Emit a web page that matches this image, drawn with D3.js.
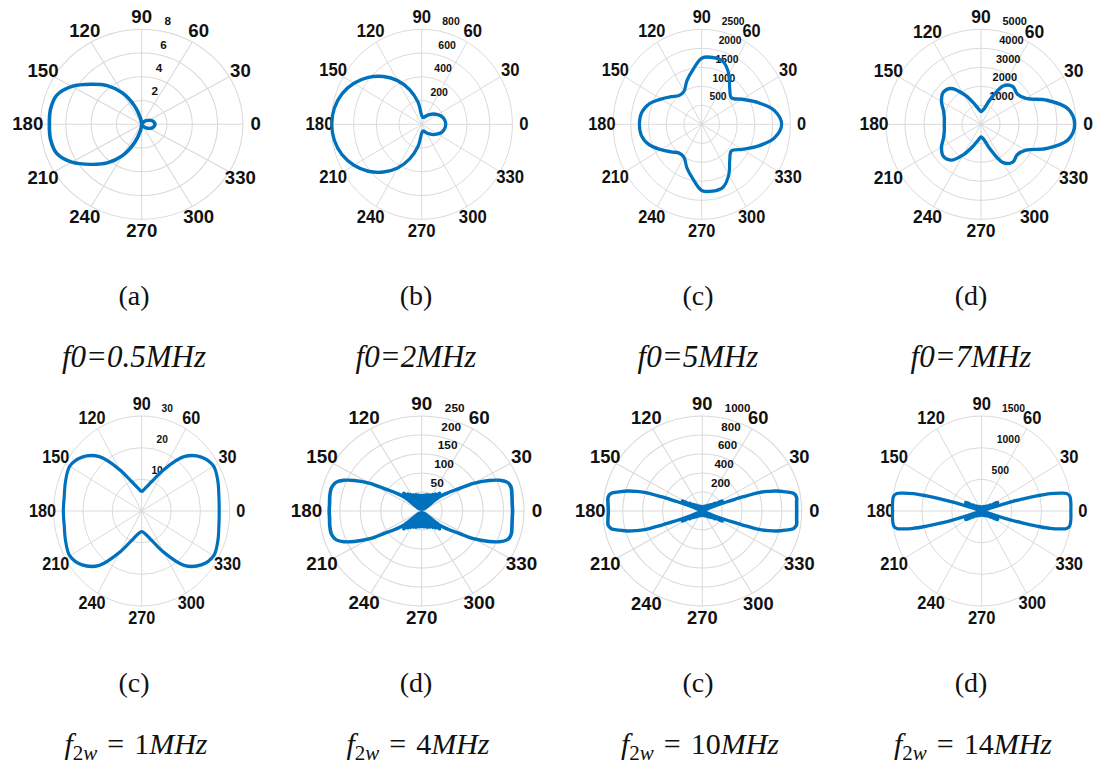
<!DOCTYPE html>
<html>
<head>
<meta charset="utf-8">
<script src="https://cdn.jsdelivr.net/npm/d3@7"></script>
<style>
  html, body { margin: 0; padding: 0; background: #fff; }
  svg { display: block; }
</style>
</head>
<body>
<svg id="fig" width="1096" height="765"></svg>
<script>
// ---------------- data ----------------
// angular grid / tick labels (degrees, counter-clockwise from east)
const thetaTicks = [0, 30, 60, 90, 120, 150, 180, 210, 240, 270, 300, 330];

// radial tick values of each polar axis
const rTicksA = [2, 4, 6, 8];
const rTicksB = [200, 400, 600, 800];
const rTicksC = [500, 1000, 1500, 2000, 2500];
const rTicksD = [1000, 2000, 3000, 4000, 5000];
const rTicksE = [10, 20, 30];
const rTicksF = [50, 100, 150, 200, 250];
const rTicksG = [200, 400, 600, 800, 1000];
const rTicksH = [500, 1000, 1500];

// radiation patterns: [angle in degrees, magnitude]
const patternA = [
  [0,1.05],[10,1.0],[20,0.88],[30,0.68],[40,0.47],[50,0.28],[60,0.13],[70,0.05],[80,0.02],[90,0.05],
  [100,0.5],[110,1.63],[120,3.05],[130,4.25],[140,5.25],[150,6.38],[160,7.15],[170,7.32],[180,7.3],
  [190,7.32],[200,7.15],[210,6.38],[220,5.25],[230,4.25],[240,3.05],[250,1.63],[260,0.5],[270,0.05],
  [280,0.02],[290,0.05],[300,0.13],[310,0.28],[320,0.47],[330,0.68],[340,0.88],[350,1.0]
];
const patternB = [
  [0,212],[10,206],[20,190],[30,162],[40,135],[50,106],[60,82],[70,64],[80,58],[90,75],
  [100,190],[110,310],[120,425],[130,525],[140,615],[150,690],[160,748],[170,782],[180,793],
  [190,782],[200,748],[210,690],[220,615],[230,525],[240,425],[250,310],[260,190],[270,75],
  [280,58],[290,64],[300,82],[310,106],[320,135],[330,162],[340,190],[350,206]
];
const patternC = [
  [0,2255],[10,2080],[20,1680],[30,1320],[40,1090],[50,1230],[60,1530],[70,1760],[80,1785],[90,1740],
  [100,1452],[110,1220],[120,1000],[130,990],[140,1130],[150,1330],[160,1575],[170,1725],[180,1757],
  [190,1725],[200,1575],[210,1330],[220,1130],[230,990],[240,1000],[250,1220],[260,1452],[270,1740],
  [280,1785],[290,1760],[300,1530],[310,1230],[320,1090],[330,1320],[340,1680],[350,2080]
];
const patternD = [
  [0,4930],[10,4660],[20,3700],[30,2730],[40,2490],[50,2600],[60,2330],[70,1370],[80,800],[90,670],
  [100,840],[110,1230],[120,1840],[130,2460],[140,2600],[150,2400],[160,2100],[170,1960],[180,1930],
  [190,1960],[200,2100],[210,2400],[220,2600],[230,2460],[240,1840],[250,1230],[260,840],[270,670],
  [280,800],[290,1370],[300,2330],[310,2600],[320,2490],[330,2730],[340,3700],[350,4660]
];
const patternE = [
  [0,26.4],[10,26.7],[20,27.6],[30,28.3],[40,26.5],[50,22.4],[60,15.1],[70,9.8],[80,7.4],[90,6.2],
  [100,7.4],[110,9.8],[120,15.1],[130,22.4],[140,26.5],[150,28.3],[160,27.6],[170,26.8],[180,26.7],
  [190,26.8],[200,27.6],[210,28.3],[220,26.5],[230,22.4],[240,15.1],[250,9.8],[260,7.4],[270,6.5],
  [280,7.4],[290,9.8],[300,15.1],[310,22.4],[320,26.5],[330,28.3],[340,27.6],[350,26.7]
];
const patternF = [
  [0,222],[5,222],[10,224],[15,227],[18,226],[20,222],[23,207],[26,183],[30,146],[33,107],[37,79],[41,55],
  [44,8],[47,64],[50,7],[53,56],[56,6],[59,51],[62,6],[65,47],[68,5],[71,45],[74,5],[76.5,43],[79,5],
  [81.5,42],[84,5],[87,41],[90,5],
  [93,41],[96,5],[98.5,42],[101,5],[103.5,43],[106,5],[109,45],[112,5],[115,47],[118,6],[121,51],[124,6],
  [127,56],[130,7],[133,64],[136,8],[139,55],[143,79],[147,107],[150,146],[154,183],[157,207],[160,222],
  [162,226],[165,229],[170,228],[175,226],[180,226],
  [185,226],[190,228],[195,229],[198,226],[200,222],[203,207],[206,183],[210,146],[213,107],[217,79],
  [221,55],[224,8],[227,64],[230,7],[233,56],[236,6],[239,51],[242,6],[245,47],[248,5],[251,45],[254,5],
  [256.5,43],[259,5],[261.5,42],[264,5],[267,41],[270,5],
  [273,41],[276,5],[278.5,42],[281,5],[283.5,43],[286,5],[289,45],[292,5],[295,47],[298,6],[301,51],
  [304,6],[307,56],[310,7],[313,64],[316,8],[319,55],[323,79],[327,107],[330,146],[334,183],[337,207],
  [340,222],[342,226],[345,227],[350,224],[355,222]
];
const patternG = [
  [0,949],[5,952],[9,958],[11.5,934],[13.5,860],[15.7,777],[17.2,700],[18.7,613],[20,440],[21,300],
  [22,220],[23,120],[24.5,15],[27,200],[28.5,225],[30.5,15],[33,150],[35.5,10],[38.5,110],[41.5,8],
  [45,85],[49,6],[54,65],[59,5],[64,55],[69,5],[74,50],[79,5],[84,45],[90,5],
  [96,45],[101,5],[106,50],[111,5],[116,55],[121,5],[126,65],[131,6],[135,85],[138.5,8],[141.5,110],
  [144.5,10],[147,150],[149.5,15],[151.5,225],[153,200],[155.5,15],[157,120],[158,220],[159,300],
  [160,440],[161.3,613],[162.8,700],[164.3,777],[166.5,860],[168.5,934],[171,958],[175,952],[180,945],
  [185,952],[189,958],[191.5,934],[193.5,860],[195.7,777],[197.2,700],[198.7,613],[200,440],[201,300],
  [202,220],[203,120],[204.5,15],[207,200],[208.5,225],[210.5,15],[213,150],[215.5,10],[218.5,110],
  [221.5,8],[225,85],[229,6],[234,65],[239,5],[244,55],[249,5],[254,50],[259,5],[264,45],[270,5],
  [276,45],[281,5],[286,50],[291,5],[296,55],[301,5],[306,65],[311,6],[315,85],[318.5,8],[321.5,110],
  [324.5,10],[327,150],[329.5,15],[331.5,225],[333,200],[335.5,15],[337,120],[338,220],[339,300],
  [340,440],[341.3,613],[342.8,700],[344.3,777],[346.5,860],[348.5,934],[351,958],[355,952]
];
const patternH = [
  [0,1490],[5,1495],[9,1490],[11,1445],[12,1360],[13.5,1175],[14.5,950],[15.5,720],[16.3,480],
  [17.2,250],[18.5,60],[20,15],[23,200],[26,300],[28.5,270],[31,15],[34,170],[37,10],[41,120],[45,8],
  [50,95],[55,6],[61,80],[67,5],[73,70],[79,5],[85,62],[90,5],
  [95,62],[101,5],[107,70],[113,5],[119,80],[125,6],[130,95],[135,8],[139,120],[143,10],[146,170],
  [149,15],[151.5,270],[154,300],[157,200],[160,15],[161.5,60],[162.8,250],[163.7,480],[164.5,720],
  [165.5,950],[166.5,1175],[168,1360],[169,1445],[171,1490],[175,1495],[180,1490],
  [185,1495],[189,1490],[191,1445],[192,1360],[193.5,1175],[194.5,950],[195.5,720],[196.3,480],
  [197.2,250],[198.5,60],[200,15],[203,200],[206,300],[208.5,270],[211,15],[214,170],[217,10],
  [221,120],[225,8],[230,95],[235,6],[241,80],[247,5],[253,70],[259,5],[265,62],[270,5],
  [275,62],[281,5],[287,70],[293,5],[299,80],[305,6],[310,95],[315,8],[319,120],[323,10],[326,170],
  [329,15],[331.5,270],[334,300],[337,200],[340,15],[341.5,60],[342.8,250],[343.7,480],[344.5,720],
  [345.5,950],[346.5,1175],[348,1360],[349,1445],[351,1490],[355,1495]
];

// sub-figure letters and captions
const panelLetters = ["(a)", "(b)", "(c)", "(d)", "(c)", "(d)", "(c)", "(d)"];
const f0Labels = ["0.5", "2", "5", "7"];
const f2wLabels = ["1", "4", "10", "14"];

// ---------------- layout ----------------
const R = 95;                 // outer radius of every polar axis
const BLUE = "#0072BD";
const GRID = "#d9d9d9";
const INK = "#111";

const panels = [
  { cx: 141.7, cy: 124.3, sx: 1.065, ticks: rTicksA, data: patternA },
  { cx: 421.7, cy: 124.3, sx: 0.955, ticks: rTicksB, data: patternB },
  { cx: 701.7, cy: 124.3, sx: 0.933, ticks: rTicksC, data: patternC },
  { cx: 981.0, cy: 124.3, sx: 1.000, ticks: rTicksD, data: patternD },
  { cx: 141.7, cy: 511.0, sx: 0.927, ticks: rTicksE, data: patternE },
  { cx: 421.7, cy: 511.0, sx: 1.077, ticks: rTicksF, data: patternF },
  { cx: 702.3, cy: 511.0, sx: 1.047, ticks: rTicksG, data: patternG },
  { cx: 981.7, cy: 511.0, sx: 0.945, ticks: rTicksH, data: patternH }
];

const svg = d3.select("#fig");
svg.append("rect").attr("width", 1096).attr("height", 765).attr("fill", "#fff");

// compass degrees (ccw from east) -> d3 radial angle (cw from north)
const angle = d3.scaleLinear().domain([0, 360]).range([Math.PI / 2, Math.PI / 2 - 2 * Math.PI]);

panels.forEach(p => {
  const rMax = p.ticks[p.ticks.length - 1];
  const r = d3.scaleLinear().domain([0, rMax]).range([0, R]);
  const g = svg.append("g")
    .attr("transform", `translate(${p.cx},${p.cy}) scale(${p.sx},1)`);

  // grid: rings and spokes
  g.append("g").selectAll("circle")
    .data(p.ticks).join("circle")
    .attr("r", d => r(d))
    .attr("fill", "none")
    .attr("stroke", GRID)
    .attr("stroke-width", 1);

  g.append("g").selectAll("line")
    .data(thetaTicks).join("line")
    .attr("x1", 0).attr("y1", 0)
    .attr("x2", d => d3.pointRadial(angle(d), R)[0])
    .attr("y2", d => d3.pointRadial(angle(d), R)[1])
    .attr("stroke", GRID)
    .attr("stroke-width", 1);

  // angular tick labels
  g.append("g").selectAll("text")
    .data(thetaTicks).join("text")
    .attr("x", d => d3.pointRadial(angle(d), R + 12)[0])
    .attr("y", d => d3.pointRadial(angle(d), R + 12)[1])
    .attr("text-anchor", "middle")
    .attr("dominant-baseline", "central")
    .attr("font-family", "'Liberation Sans', Arial, sans-serif")
    .attr("font-weight", "bold")
    .attr("font-size", 17.5)
    .attr("fill", INK)
    .text(d => d);

  // radial tick labels along the 80° direction
  g.append("g").selectAll("text")
    .data(p.ticks).join("text")
    .attr("x", d => d3.pointRadial(angle(80), r(d))[0] + 5)
    .attr("y", d => d3.pointRadial(angle(80), r(d))[1] - 9.5)
    .attr("text-anchor", "start")
    .attr("dominant-baseline", "central")
    .attr("font-family", "'Liberation Sans', Arial, sans-serif")
    .attr("font-weight", "bold")
    .attr("font-size", 11)
    .attr("fill", INK)
    .text(d => d);

  // pattern curve
  const line = d3.lineRadial()
    .angle(d => angle(d[0]))
    .radius(d => r(d[1]))
    .curve(d3.curveCatmullRomClosed.alpha(0.5));

  g.append("path")
    .datum(p.data)
    .attr("d", line)
    .attr("fill", "none")
    .attr("stroke", BLUE)
    .attr("stroke-width", 3.4)
    .attr("stroke-linejoin", "round");
});

// ---------------- captions ----------------
const colX = [134, 416, 698, 971];
const serif = "'Liberation Serif', 'Times New Roman', serif";

panelLetters.forEach((t, i) => {
  svg.append("text")
    .attr("x", colX[i % 4])
    .attr("y", i < 4 ? 305 : 692)
    .attr("text-anchor", "middle")
    .attr("font-family", serif)
    .attr("font-size", 28)
    .attr("fill", INK)
    .text(t);
});

f0Labels.forEach((v, i) => {
  svg.append("text")
    .attr("x", colX[i])
    .attr("y", 367)
    .attr("text-anchor", "middle")
    .attr("font-family", serif)
    .attr("font-style", "italic")
    .attr("font-size", 31)
    .attr("fill", INK)
    .text(`f0=${v}MHz`);
});

f2wLabels.forEach((v, i) => {
  const t = svg.append("text")
    .attr("x", colX[i] + 2)
    .attr("y", 754)
    .attr("text-anchor", "middle")
    .attr("font-family", serif)
    .attr("font-size", 30)
    .attr("fill", INK);
  t.append("tspan").attr("font-style", "italic").text("f");
  t.append("tspan").attr("dy", 6).attr("font-size", 21).text("2");
  t.append("tspan").attr("font-size", 21).attr("font-style", "italic").text("w");
  t.append("tspan").attr("dy", -6).text(`\u2004=\u2004${v}`);
  t.append("tspan").attr("font-style", "italic").text("MHz");
});
</script>
</body>
</html>
